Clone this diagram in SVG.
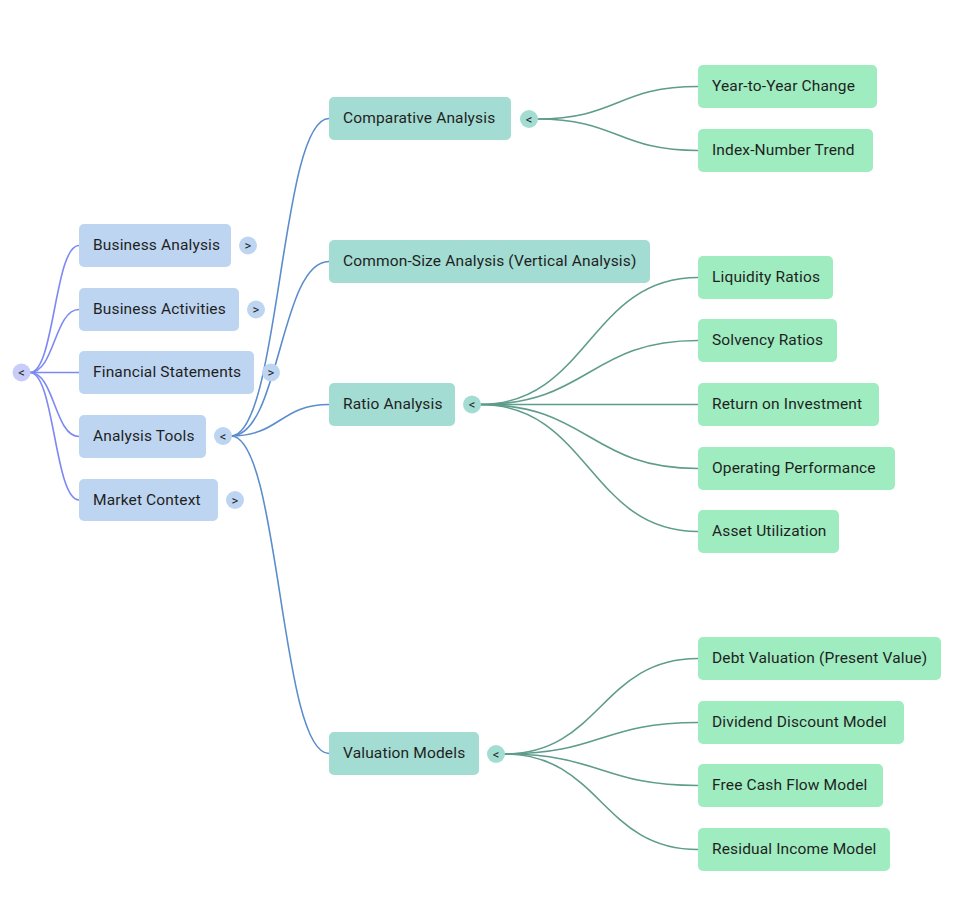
<svg xmlns="http://www.w3.org/2000/svg" width="966" height="909" viewBox="0 0 966 909">
<style>
text{font-family:Roboto,"Noto Sans",sans-serif;font-size:15.5px;letter-spacing:0.15px;fill:#1f1f1f}
.b{font-size:13px;letter-spacing:0;text-anchor:middle}
.l1{fill:#bdd5f1}
.l2{fill:#a3dcd2}
.l3{fill:#9eecbf}
.rb{fill:#c7ccf8}
.c0{fill:none;stroke:#7d89f2;stroke-width:1.6}
.c1{fill:none;stroke:#5b8dcc;stroke-width:1.6}
.c2{fill:none;stroke:#5e9c8b;stroke-width:1.6}
</style>
<rect width="966" height="909" fill="#ffffff"/>
<g id="connectors">
<path class="c0" d="M30 372.5 C54.5 372.5 54.5 245.5 79 245.5"/>
<path class="c0" d="M30 372.5 C54.5 372.5 54.5 309.5 79 309.5"/>
<path class="c0" d="M30 372.5 L79 372.5"/>
<path class="c0" d="M30 372.5 C54.5 372.5 54.5 436.5 79 436.5"/>
<path class="c0" d="M30 372.5 C54.5 372.5 54.5 500 79 500"/>
<path class="c1" d="M231 436 C280 436 280 118.5 329 118.5"/>
<path class="c1" d="M231 436 C280 436 280 261.5 329 261.5"/>
<path class="c1" d="M231 436 C280 436 280 404.5 329 404.5"/>
<path class="c1" d="M231 436 C280 436 280 753.5 329 753.5"/>
<path class="c2" d="M537 119 C617.5 119 617.5 86.5 698 86.5"/>
<path class="c2" d="M537 119 C617.5 119 617.5 150.5 698 150.5"/>
<path class="c2" d="M480 404.5 C589 404.5 589 277.5 698 277.5"/>
<path class="c2" d="M480 404.5 C589 404.5 589 340.5 698 340.5"/>
<path class="c2" d="M480 404.5 L698 404.5"/>
<path class="c2" d="M480 404.5 C589 404.5 589 468.5 698 468.5"/>
<path class="c2" d="M480 404.5 C589 404.5 589 531.5 698 531.5"/>
<path class="c2" d="M504 754 C601 754 601 658.5 698 658.5"/>
<path class="c2" d="M504 754 C601 754 601 722.5 698 722.5"/>
<path class="c2" d="M504 754 C601 754 601 785.5 698 785.5"/>
<path class="c2" d="M504 754 C601 754 601 849.5 698 849.5"/>
</g>
<g id="root-toggle"><circle class="rb" cx="21.5" cy="372.5" r="9"/><text class="b" x="21.5" y="377">&lt;</text></g>
<g id="n-business-analysis"><rect class="l1" x="79" y="224" width="152" height="43" rx="5"/><text x="93" y="250">Business Analysis</text><circle class="l1" cx="248" cy="245.5" r="9"/><text class="b" x="248" y="250">&gt;</text></g>
<g id="n-business-activities"><rect class="l1" x="79" y="288" width="160" height="43" rx="5"/><text x="93" y="314">Business Activities</text><circle class="l1" cx="256" cy="309.5" r="9"/><text class="b" x="256" y="314">&gt;</text></g>
<g id="n-financial-statements"><rect class="l1" x="79" y="351" width="175" height="43" rx="5"/><text x="93" y="377">Financial Statements</text><circle class="l1" cx="271" cy="372.5" r="9"/><text class="b" x="271" y="377">&gt;</text></g>
<g id="n-analysis-tools"><rect class="l1" x="79" y="415" width="127" height="43" rx="5"/><text x="93" y="441">Analysis Tools</text><circle class="l1" cx="223" cy="436" r="9"/><text class="b" x="223" y="440.5">&lt;</text></g>
<g id="n-market-context"><rect class="l1" x="79" y="479" width="139" height="42" rx="5"/><text x="93" y="504.5">Market Context</text><circle class="l1" cx="235" cy="500" r="9"/><text class="b" x="235" y="504.5">&gt;</text></g>
<g id="n-comparative"><rect class="l2" x="329" y="97" width="182" height="43" rx="5"/><text x="343" y="123">Comparative Analysis</text><circle class="l2" cx="529" cy="119" r="9"/><text class="b" x="529" y="123.5">&lt;</text></g>
<g id="n-common-size"><rect class="l2" x="329" y="240" width="321" height="43" rx="5"/><text x="343" y="266">Common-Size Analysis (Vertical Analysis)</text></g>
<g id="n-ratio"><rect class="l2" x="329" y="383" width="126" height="43" rx="5"/><text x="343" y="409">Ratio Analysis</text><circle class="l2" cx="472" cy="404.5" r="9"/><text class="b" x="472" y="409">&lt;</text></g>
<g id="n-valuation"><rect class="l2" x="329" y="732" width="150" height="43" rx="5"/><text x="343" y="758">Valuation Models</text><circle class="l2" cx="496" cy="754" r="9"/><text class="b" x="496" y="758.5">&lt;</text></g>
<g id="n-yoy"><rect class="l3" x="698" y="65" width="179" height="43" rx="5"/><text x="712" y="91">Year-to-Year Change</text></g>
<g id="n-index"><rect class="l3" x="698" y="129" width="175" height="43" rx="5"/><text x="712" y="155">Index-Number Trend</text></g>
<g id="n-liquidity"><rect class="l3" x="698" y="256" width="135" height="43" rx="5"/><text x="712" y="282">Liquidity Ratios</text></g>
<g id="n-solvency"><rect class="l3" x="698" y="319" width="139" height="43" rx="5"/><text x="712" y="345">Solvency Ratios</text></g>
<g id="n-roi"><rect class="l3" x="698" y="383" width="181" height="43" rx="5"/><text x="712" y="409">Return on Investment</text></g>
<g id="n-operating"><rect class="l3" x="698" y="447" width="197" height="43" rx="5"/><text x="712" y="473">Operating Performance</text></g>
<g id="n-asset"><rect class="l3" x="698" y="510" width="141" height="43" rx="5"/><text x="712" y="536">Asset Utilization</text></g>
<g id="n-debt"><rect class="l3" x="698" y="637" width="243" height="43" rx="5"/><text x="712" y="663">Debt Valuation (Present Value)</text></g>
<g id="n-dividend"><rect class="l3" x="698" y="701" width="206" height="43" rx="5"/><text x="712" y="727">Dividend Discount Model</text></g>
<g id="n-fcf"><rect class="l3" x="698" y="764" width="185" height="43" rx="5"/><text x="712" y="790">Free Cash Flow Model</text></g>
<g id="n-residual"><rect class="l3" x="698" y="828" width="192" height="43" rx="5"/><text x="712" y="854">Residual Income Model</text></g>
</svg>
